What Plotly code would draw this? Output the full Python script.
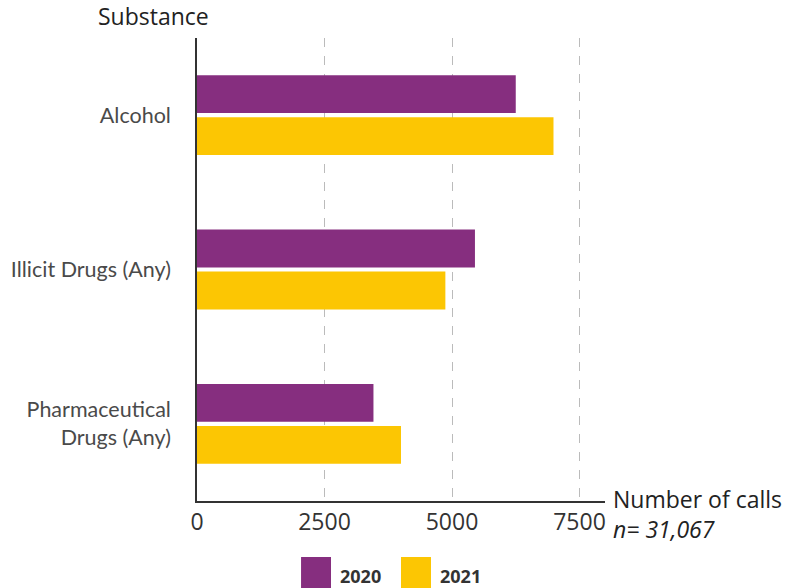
import plotly.graph_objects as go

categories = ["Alcohol", "Illicit Drugs (Any)", "Pharmaceutical<br>Drugs (Any)"]
years = ["2020", "2021"]
values_2020 = [6250, 5450, 3460]
values_2021 = [6990, 4870, 4000]
colors = ["#862E7F", "#FCC603"]
x_ticks = [0, 2500, 5000, 7500]

fig = go.Figure()
for name, vals, col in zip(years, [values_2020, values_2021], colors):
    fig.add_trace(go.Bar(y=categories, x=vals, name=name, orientation="h",
                         marker=dict(color=col, line=dict(width=0)),
                         showlegend=False))

fig.update_layout(
    width=785, height=588,
    margin=dict(l=197, r=180, t=38, b=87),
    paper_bgcolor="white", plot_bgcolor="white",
    barmode="group", bargap=0.455, bargroupgap=0.1,
    xaxis=dict(range=[0, 8000], tickvals=x_ticks, ticktext=[str(v) for v in x_ticks],
               showgrid=True, gridcolor="#BBBBBB", gridwidth=1.3, griddash="dash",
               zeroline=False, showline=True, linecolor="#333333", linewidth=1.5,
               ticks="", ticklabelstandoff=0,
               tickfont=dict(family="Open Sans", size=23, color="#333333")),
    yaxis=dict(autorange="reversed", showgrid=False, zeroline=False,
               showline=True, linecolor="#333333", linewidth=1.5, ticks="",
               ticklabelstandoff=20,
               tickfont=dict(family="Lato", size=21.5, color="#4A4A4A")),
)

fig.add_annotation(text="Substance", xref="paper", yref="paper", x=-0.248, y=1.0,
                   xanchor="left", yanchor="bottom", yshift=4, showarrow=False,
                   font=dict(family="Open Sans", size=23, color="#222222"))
fig.add_annotation(text="Number of calls<br><i>n= 31,067</i>", xref="paper", yref="paper",
                   x=1.0, y=0.0, xanchor="left", yanchor="middle", align="left",
                   xshift=6, yshift=-13, showarrow=False,
                   font=dict(family="Open Sans", size=23, color="#222222"))

# custom legend
leg_x = [0.255, 0.5]
for name, col, lx in zip(years, colors, leg_x):
    fig.add_shape(type="rect", xref="paper", yref="paper",
                  x0=lx, x1=lx + 0.0735, y0=-0.121, y1=-0.19,
                  fillcolor=col, line=dict(width=0))
    fig.add_annotation(text="<b>" + name + "</b>", xref="paper", yref="paper",
                       x=lx + 0.09, y=-0.162, xanchor="left", yanchor="middle",
                       showarrow=False,
                       font=dict(family="Open Sans", size=18, color="#333333"))

fig.write_html("out.html", config={"displayModeBar": False},
               post_script="document.body.style.margin='0';")
